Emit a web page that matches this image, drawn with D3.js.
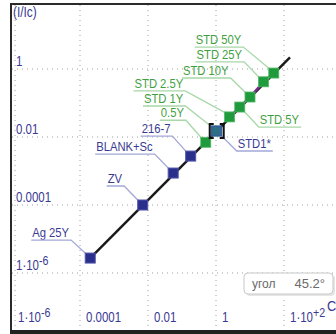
<!DOCTYPE html>
<html><head><meta charset="utf-8">
<script src="https://cdn.jsdelivr.net/npm/d3@7"></script>
<style>
html,body{margin:0;padding:0;background:#fff;}
svg{display:block;}
text{font-family:"Liberation Sans",Arial,sans-serif;}
</style></head><body>
<svg id="c" width="336" height="334"></svg>
<script>
// ---- data ----
const sampleNames = ["Ag 25Y","ZV","BLANK+Sc","216-7","STD1*"];
const sampleX     = [2.0e-4, 7.0e-3, 0.055, 0.18, 1.05];
const sampleY     = [2.75e-6, 1.0e-4, 8.7e-4, 2.75e-3, 1.5e-2];

const stdNames = ["0.5Y","STD 1Y","STD 2.5Y","STD 5Y","STD 10Y","STD 25Y","STD 50Y"];
const stdX     = [0.5, 1.0, 2.5, 5, 10, 25, 50];
const stdY     = [7.0e-3, 1.5e-2, 0.039, 0.076, 0.15, 0.42, 0.76];

const fitX = [2.0e-4, 150];
const fitY = [2.75e-6, 2.2];

const xTicks = [1e-6, 1e-4, 1e-2, 1, 1e2];
const xTickLabels = [["1·10","-6"],["0.0001",""],["0.01",""],["1",""],["1·10","+2"]];
const yTicks = [1, 1e-2, 1e-4, 1e-6];
const yTickLabels = [["1",""],["0.01",""],["0.0001",""],["1·10","-6"]];
const angleLabel = "угол";
const angleValue = "45.2°";

// label layout (pixel offsets of text start/baseline from the marker)
const sampleLabelOffset = [[-58,-21],[-35,-22],[-77,-22],[-49,-23],[21,17]];
const stdLabelOffset = [[-45,-25],[-72,-28],[-95,-29],[20,17],[-67,-22],[-67,-23],[-78,-29]];

// ---- drawing ----
const svg = d3.select("#c");
const x = d3.scaleLog().domain([1e-6, 1e2]).range([12, 284]);
const y = d3.scaleLog().domain([1e-6, 1]).range([273, 69]);
const L = 12, T = 5, B = 330, R = 336;

const navy = "#3a3a92", blueMark = "#2b2f8c", greenMark = "#1f9a3c",
      greenText = "#3f9f3f", greenLine = "#a8d8a8", blueLine = "#a3a8d8";

function ntext(px, py, size, fill, sx) {
  return svg.append("text").attr("transform", `translate(${px},${py}) scale(${sx},1)`)
    .attr("font-size", size).attr("fill", fill);
}

// grid
const g = svg.append("g");
xTicks.slice(1).forEach(v => g.append("line")
  .attr("x1", x(v)).attr("x2", x(v)).attr("y1", T).attr("y2", B)
  .attr("stroke", "#a0a0a0").attr("stroke-width", 1).attr("stroke-dasharray", "1,4"));
yTicks.forEach(v => g.append("line")
  .attr("x1", L).attr("x2", R).attr("y1", y(v)).attr("y2", y(v))
  .attr("stroke", "#a0a0a0").attr("stroke-width", 1).attr("stroke-dasharray", "1,4"));
g.append("line").attr("x1", L+3).attr("x2", L+3).attr("y1", T).attr("y2", B)
  .attr("stroke", "#a0a0a0").attr("stroke-dasharray", "1,4");

// frame
svg.append("line").attr("x1", 11).attr("x2", 11).attr("y1", 3).attr("y2", 334).attr("stroke", "#2a2a2a").attr("stroke-width", 2);
svg.append("line").attr("x1", 10).attr("x2", 336).attr("y1", 4).attr("y2", 4).attr("stroke", "#2a2a2a").attr("stroke-width", 2);
svg.append("rect").attr("x", 10).attr("y", 330).attr("width", 326).attr("height", 4).attr("fill", "#222");

// tick labels
function tickText(sel, parts) {
  sel.append("tspan").text(parts[0]);
  if (parts[1]) sel.append("tspan").attr("dy", -5).attr("font-size", 13).text(parts[1]);
}
yTicks.forEach((v, i) => tickText(ntext(16, y(v) - 3, 14, navy, 0.82), yTickLabels[i]));
xTicks.forEach((v, i) => tickText(ntext(x(v) + 6, 322, 14, navy, 0.82), xTickLabels[i]));
ntext(13, 17, 14, navy, 0.85).text("(I/Ic)");
ntext(327, 311, 15, navy, 0.85).text("C");

// fit line
const line = d3.line().x(d => x(d[0])).y(d => y(d[1]));
svg.append("path").datum(d3.zip(fitX, fitY)).attr("d", line)
  .attr("stroke", "#1a1a1a").attr("stroke-width", 2.5).attr("fill", "none");
svg.append("path").datum(d3.zip(stdX, stdY).slice(2)).attr("d", line)
  .attr("stroke", "#7a2a8a").attr("stroke-width", 2.5).attr("fill", "none");

// labels with leaders
const LS = 12.5, LX = 0.9;
function labelAt(name, px, py, off, tcol, lcol) {
  const tx = px + off[0], ty = py + off[1];
  const t = ntext(tx, ty, LS, tcol, LX).text(name);
  const w = t.node().getComputedTextLength() * LX;
  const uy = ty + 3;
  const right = off[0] > 0;
  const pts = right
    ? [[px + 5, py + 5], [tx - 1, uy], [tx + w + 2, uy]]
    : [[tx - 1, uy], [tx + w + 2, uy], [px - 4, py - 4]];
  svg.append("path").attr("d", d3.line()(pts))
    .attr("stroke", lcol).attr("stroke-width", 1.3).attr("fill", "none");
}
const stdPts = d3.zip(stdX, stdY, stdNames);
stdPts.forEach((d, i) => labelAt(d[2], x(d[0]), y(d[1]), stdLabelOffset[i], greenText, greenLine));
const smpPts = d3.zip(sampleX, sampleY, sampleNames);
smpPts.forEach((d, i) => labelAt(d[2], x(d[0]), y(d[1]), sampleLabelOffset[i], navy, blueLine));

// markers
const s = 10;
svg.selectAll("rect.std").data(stdPts).join("rect").attr("class", "std")
  .attr("x", d => x(d[0]) - s/2).attr("y", d => y(d[1]) - s/2)
  .attr("width", s).attr("height", s).attr("fill", greenMark).attr("stroke", "#4fb864").attr("stroke-width", 0.8);
svg.selectAll("rect.smp").data(smpPts).join("rect").attr("class", "smp")
  .attr("x", d => x(d[0]) - s/2).attr("y", d => y(d[1]) - s/2)
  .attr("width", s).attr("height", s)
  .attr("fill", d => d[2] === "STD1*" ? "#2f6f86" : blueMark)
  .attr("stroke", d => d[2] === "STD1*" ? "#3a4fb0" : "#5055a8").attr("stroke-width", 1);

// bracket around STD1*
const bx = x(sampleX[4]), by = y(sampleY[4]);
svg.append("path").attr("d", `M${bx-3},${by-7}H${bx-7}V${by+7}H${bx-3}M${bx+3},${by-7}H${bx+7}V${by+7}H${bx+3}`)
  .attr("stroke", "#111").attr("stroke-width", 2).attr("fill", "none");

// angle box
const box = svg.append("g");
box.append("rect").attr("x", 246).attr("y", 275).attr("width", 89).attr("height", 21).attr("rx", 4)
  .attr("fill", "#e6e6e6");
box.append("rect").attr("x", 244).attr("y", 273).attr("width", 89).attr("height", 21).attr("rx", 4)
  .attr("fill", "#fff").attr("stroke", "#c8c8c8");
box.append("text").attr("x", 252).attr("y", 288).attr("font-size", 12).attr("fill", "#6a6a6a").text(angleLabel);
box.append("text").attr("x", 325).attr("y", 288).attr("font-size", 13).attr("text-anchor", "end").attr("fill", "#6a6a6a").text(angleValue);
</script></body></html>
